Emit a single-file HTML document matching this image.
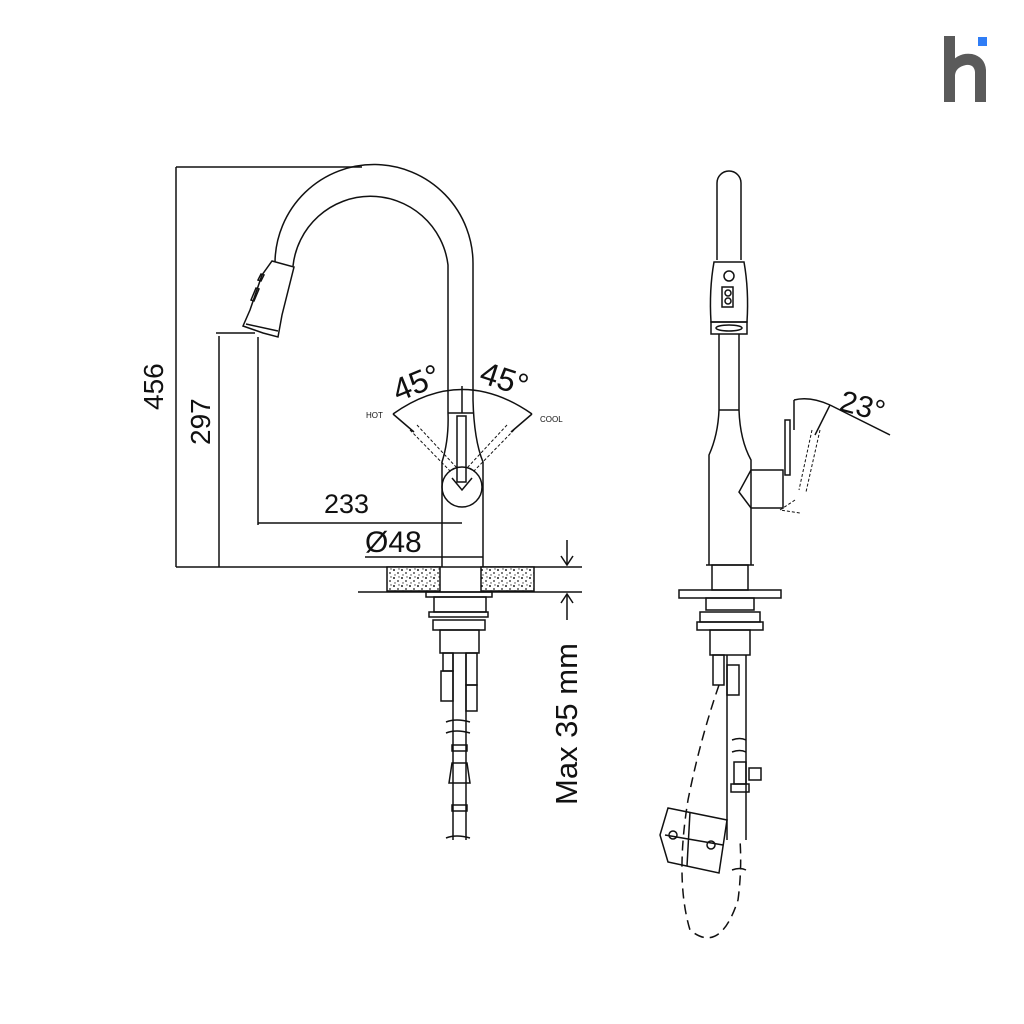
<!DOCTYPE html>
<html><head><meta charset="utf-8"><style>html,body{margin:0;padding:0;background:#fff}svg{display:block}</style></head>
<body>
<svg width="1024" height="1024" viewBox="0 0 1024 1024" xmlns="http://www.w3.org/2000/svg">
<defs>
<pattern id="sp" width="8" height="8" patternUnits="userSpaceOnUse">
<rect width="8" height="8" fill="#fff"/>
<circle cx="2" cy="2" r="1" fill="#222"/><circle cx="6" cy="5" r="0.9" fill="#222"/><circle cx="3" cy="7" r="0.7" fill="#444"/><circle cx="7" cy="1" r="0.7" fill="#444"/>
</pattern>
</defs>
<rect width="1024" height="1024" fill="#fff"/>
<!-- logo -->
<rect x="944" y="36" width="11" height="66" fill="#5a5a5a"/>
<path d="M950 64 Q958 52 972 54 Q985 57 986 70 L986 102 L975 102 L975 72 Q974 64 966 65 Q956 67 955 75 Z" fill="#5a5a5a"/>
<rect x="978" y="37" width="9" height="9" fill="#2f7df6"/>

<g fill="none" stroke="#111" stroke-width="1.5">
<!-- left faucet spout -->
<path d="M275 262 A99 99 0 0 1 473 265 L473 400"/>
<path d="M293 266 A78 78 0 0 1 448 265 L448 413"/>
<path d="M448 413 Q449 440 442 462 L442 567"/>
<path d="M473 400 Q474 440 483 462 L483 567"/>
<line x1="448" y1="413" x2="473" y2="413"/>
<!-- spray head -->
<path d="M272 261 L294 267 L282 315 L278 337 L263 333 L243 326 L250 310 L262 275 Z"/>
<line x1="246" y1="324" x2="278" y2="331"/>
<path d="M258 280 l3 -6 l3 1 l-3 6 z M251 300 l5 -12 l3 1 l-5 12 z"/>
<!-- lever -->
<circle cx="462" cy="487" r="20"/>
<rect x="457" y="416" width="9" height="66"/>
<path d="M452 478 L462 490 L472 478"/>
<g stroke-dasharray="3 2" stroke-width="1">
<path d="M410 430 L452 473 M417 425 L457 468"/>
<path d="M514 430 L472 473 M507 425 L467 468"/>
</g>
<path d="M393 414 Q462 365 532 414"/>
<line x1="393" y1="414" x2="414" y2="432"/>
<line x1="532" y1="414" x2="511" y2="432"/>
<line x1="462" y1="386" x2="462" y2="413"/>

<!-- dimensions -->
<line x1="176" y1="167" x2="362" y2="167"/>
<line x1="176" y1="167" x2="176" y2="567"/>
<line x1="176" y1="567" x2="298" y2="567"/>
<line x1="216" y1="333" x2="255" y2="333"/>
<line x1="219" y1="336" x2="219" y2="567"/>
<line x1="258" y1="337" x2="258" y2="525"/>
<line x1="258" y1="523" x2="462" y2="523"/>
<line x1="365" y1="557" x2="483" y2="557"/>
<!-- counter -->
<line x1="298" y1="567" x2="582" y2="567"/>
<line x1="358" y1="592" x2="582" y2="592"/>
<rect x="387" y="567" width="53" height="24" fill="url(#sp)"/>
<rect x="481" y="567" width="53" height="24" fill="url(#sp)"/>
<line x1="567" y1="540" x2="567" y2="565"/>
<path d="M561 556 L567 565 L573 556"/>
<line x1="567" y1="594" x2="567" y2="620"/>
<path d="M561 603 L567 594 L573 603"/>
<!-- under counter left -->
<rect x="426" y="592" width="66" height="5"/>
<rect x="434" y="597" width="52" height="15"/>
<rect x="429" y="612" width="59" height="5"/>
<rect x="433" y="620" width="52" height="10"/>
<rect x="440" y="630" width="39" height="23"/>
<rect x="443" y="653" width="10" height="18"/>
<rect x="441" y="671" width="12" height="30"/>
<rect x="466" y="653" width="11" height="32"/>
<rect x="466" y="685" width="11" height="26"/>
<line x1="453" y1="653" x2="453" y2="840"/>
<line x1="466" y1="653" x2="466" y2="840"/>
<path d="M446 722 q10 -4 24 0 M446 733 q10 -4 24 0 M446 838 q10 -4 24 0"/>
<rect x="452" y="745" width="15" height="6"/>
<path d="M452 763 L467 763 L470 783 L449 783 Z"/>
<rect x="452" y="805" width="15" height="6"/>

<!-- right faucet -->
<path d="M717 260 L717 183 A12 12 0 0 1 741 183 L741 260"/>
<path d="M714 262 L744 262 Q749 290 747 322 L711 322 Q709 290 714 262 Z"/>
<rect x="711" y="322" width="36" height="12"/>
<ellipse cx="729" cy="328" rx="13" ry="3"/>
<circle cx="729" cy="276" r="5"/>
<rect x="722" y="287" width="11" height="20"/>
<circle cx="728" cy="293" r="3"/><circle cx="728" cy="301" r="3"/>
<path d="M719 334 L719 410 Q718 435 709 455 L709 565"/>
<path d="M739 334 L739 410 Q740 440 751 460 L751 565"/>
<line x1="719" y1="410" x2="739" y2="410"/>
<path d="M751 470 L783 470 L783 508 L751 508 L739 492 Z"/>
<rect x="785" y="420" width="5" height="55"/>
<g stroke-dasharray="3 2" stroke-width="1">
<path d="M812 430 L799 490 M820 430 L806 492 M795 500 L780 510 L800 513"/>
</g>
<path d="M794 400 Q810 396 830 405"/>
<line x1="794" y1="400" x2="794" y2="430"/>
<line x1="830" y1="405" x2="890" y2="435"/>
<line x1="830" y1="405" x2="815" y2="435"/>
<line x1="706" y1="565" x2="754" y2="565"/>
<rect x="712" y="565" width="36" height="25"/>
<rect x="679" y="590" width="102" height="8"/>
<rect x="706" y="598" width="48" height="12"/>
<rect x="700" y="612" width="60" height="10"/>
<rect x="697" y="622" width="66" height="8"/>
<rect x="710" y="630" width="40" height="25"/>
<rect x="713" y="655" width="11" height="30"/>
<path d="M727 655 L727 840 M746 655 L746 840"/>
<rect x="727" y="665" width="12" height="30"/>
<path d="M732 740 q8 -3 14 0 M732 752 q8 -3 14 0 M732 870 q8 -3 14 0"/>
<rect x="734" y="762" width="12" height="22"/>
<rect x="731" y="784" width="18" height="8"/>
<rect x="749" y="768" width="12" height="12"/>
<path d="M668 808 L727 820 L719 873 L668 862 L660 835 Z"/>
<line x1="665" y1="835" x2="723" y2="845"/>
<line x1="690" y1="812" x2="687" y2="866"/>
<circle cx="673" cy="835" r="4"/><circle cx="711" cy="845" r="4"/>
<path d="M719 685 Q700 740 688 800 Q675 880 690 930 Q720 955 738 900 Q742 870 740 840" stroke-dasharray="10 6"/>
</g>

<g font-family="'Liberation Sans', sans-serif" fill="#111">
<text x="0" y="0" font-size="28" transform="translate(163 410) rotate(-90)">456</text>
<text x="0" y="0" font-size="28" transform="translate(210 445) rotate(-90)">297</text>
<text x="324" y="513" font-size="27">233</text>
<text x="365" y="552" font-size="30">Ø48</text>
<text x="0" y="0" font-size="32" transform="translate(398 402) rotate(-22)">45°</text>
<text x="0" y="0" font-size="32" transform="translate(478 382) rotate(18)">45°</text>
<text x="366" y="418" font-size="8">HOT</text>
<text x="540" y="422" font-size="8">COOL</text>
<text x="0" y="0" font-size="30" transform="translate(838 410) rotate(15)">23°</text>
<text x="0" y="0" font-size="31" transform="translate(577 805) rotate(-90)">Max 35 mm</text>
</g>
</svg>
</body></html>
